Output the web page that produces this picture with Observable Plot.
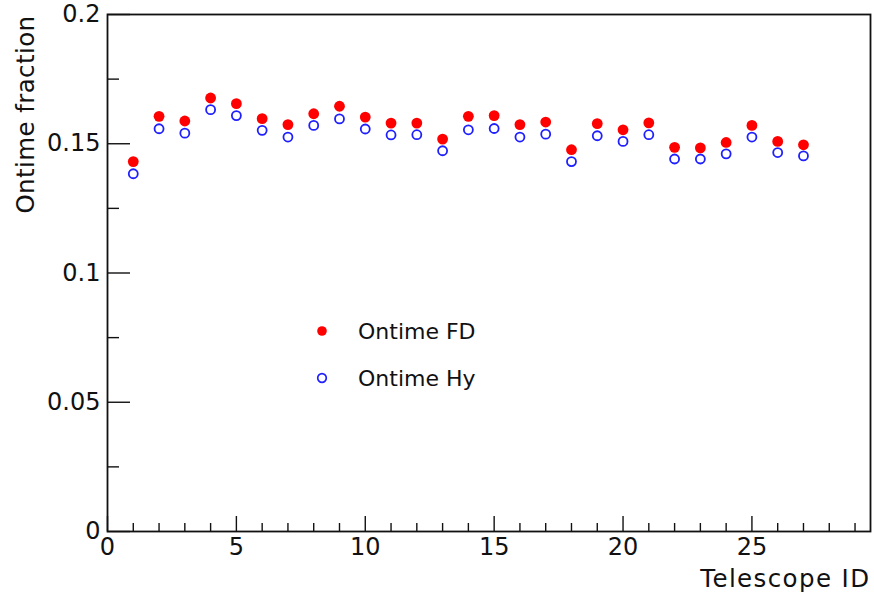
<!DOCTYPE html>
<html>
<head>
<meta charset="utf-8">
<script src="https://cdn.jsdelivr.net/npm/d3@7"></script>
<script src="https://cdn.jsdelivr.net/npm/@observablehq/plot@0.6"></script>
<style>
  html, body { margin: 0; padding: 0; background: #fff; }
  #chart { position: relative; width: 874px; height: 599px; overflow: hidden; }
  #legend { position: absolute; left: 0; top: 0; pointer-events: none; }
</style>
</head>
<body>
<div id="chart"></div>
<script>
// Telescope IDs and on-time fractions per telescope
const telescopeIds = [1, 2, 3, 4, 5, 6, 7, 8, 9, 10, 11, 12, 13, 14, 15, 16, 17, 18, 19, 20, 21, 22, 23, 24, 25, 26, 27];
const ontimeFD = [0.1431, 0.1606, 0.1588, 0.1677, 0.1655, 0.1597, 0.1574, 0.1616, 0.1645, 0.1603, 0.1580, 0.1580, 0.1518, 0.1606,
                  0.1609, 0.1574, 0.1584, 0.1477, 0.1578, 0.1554, 0.1581, 0.1486, 0.1484, 0.1505, 0.1571, 0.1509, 0.1496];
const ontimeHy = [0.1384, 0.1558, 0.1541, 0.1632, 0.1609, 0.1552, 0.1526, 0.1571, 0.1596, 0.1557, 0.1534, 0.1535, 0.1473, 0.1554,
                  0.1559, 0.1526, 0.1537, 0.1431, 0.1531, 0.1509, 0.1535, 0.1441, 0.1441, 0.1461, 0.1526, 0.1466, 0.1453];

// Axis ticks
const xMajorTicks = [0, 5, 10, 15, 20, 25];
const xMinorTicks = [1, 2, 3, 4, 6, 7, 8, 9, 11, 12, 13, 14, 16, 17, 18, 19, 21, 22, 23, 24, 26, 27, 28, 29];
const yMajorTicks = [0, 0.05, 0.1, 0.15, 0.2];
const yTickLabels = ["0", "0.05", "0.1", "0.15", "0.2"];
const yMinorTicks = [0.025, 0.075, 0.125, 0.175];

const seriesNames = ["Ontime FD", "Ontime Hy"];
const xTitle = "Telescope ID";
const yTitle = "Ontime fraction";

const fdRows = telescopeIds.map((id, i) => ({id, value: ontimeFD[i]}));
const hyRows = telescopeIds.map((id, i) => ({id, value: ontimeHy[i]}));

const W = 874, H = 599;
const mL = 107, mR = 4, mT = 14, mB = 68;
const innerW = W - mL - mR, innerH = H - mT - mB;
const font = "'DejaVu Sans', 'Liberation Sans', sans-serif";
const ink = "#111";

const plot = Plot.plot({
  width: W,
  height: H,
  marginLeft: mL,
  marginRight: mR,
  marginTop: mT,
  marginBottom: mB,
  style: {fontFamily: font, fontSize: "24px", color: ink, background: "#fff", overflow: "visible"},
  x: {domain: [0, 29.6], axis: null},
  y: {domain: [0, 0.2], axis: null},
  marks: [
    // inward tick marks
    Plot.ruleX(xMajorTicks, {x: d => d, insetTop: innerH - 15, stroke: ink, strokeWidth: 1.4}),
    Plot.ruleX(xMinorTicks, {x: d => d, insetTop: innerH - 8, stroke: ink, strokeWidth: 1.4}),
    Plot.ruleY(yMajorTicks, {y: d => d, insetRight: innerW - 23, stroke: ink, strokeWidth: 1.4}),
    Plot.ruleY(yMinorTicks, {y: d => d, insetRight: innerW - 12, stroke: ink, strokeWidth: 1.4}),
    // tick labels
    Plot.axisX({ticks: xMajorTicks, tickSize: 0, tickPadding: 6, tickFormat: d => String(d),
                fontSize: 24, label: null, fill: ink}),
    Plot.axisY({ticks: yMajorTicks, tickSize: 0, tickPadding: 7,
                tickFormat: d => yTickLabels[yMajorTicks.indexOf(d)], fontSize: 24, label: null, fill: ink}),
    // axis titles
    Plot.text([xTitle], {frameAnchor: "bottom-right", textAnchor: "end", lineAnchor: "bottom",
                         dy: 55, dx: 0, fontSize: 24.5, fill: ink}),
    Plot.text([yTitle], {frameAnchor: "top-left", rotate: -90, textAnchor: "end", lineAnchor: "bottom",
                         dx: -74, dy: 1, fontSize: 24.5, fill: ink}),
    // data
    Plot.dot(hyRows, {x: "id", y: "value", r: 4.5, stroke: "#1f1fff", strokeWidth: 1.8, fill: "none"}),
    Plot.dot(fdRows, {x: "id", y: "value", r: 5.4, fill: "#ff0000", stroke: "none"}),
    Plot.frame({stroke: ink, strokeWidth: 1.8})
  ]
});

// widen the axis titles slightly
d3.select(plot).selectAll("text")
  .filter(function() { return this.textContent === xTitle; })
  .style("letter-spacing", "1.4px");
d3.select(plot).selectAll("text")
  .filter(function() { return this.textContent === yTitle; })
  .style("letter-spacing", "0.4px");

const chart = document.getElementById("chart");
chart.appendChild(plot);

// Legend drawn in an overlay
const legend = d3.select(chart).append("svg")
  .attr("id", "legend")
  .attr("width", W)
  .attr("height", H)
  .style("font-family", font);

const entries = [
  {name: seriesNames[0], cy: 331, filled: true},
  {name: seriesNames[1], cy: 378, filled: false}
];
const g = legend.selectAll("g").data(entries).join("g")
  .attr("transform", d => `translate(322,${d.cy})`);
g.append("circle")
  .attr("r", d => d.filled ? 4.8 : 4.3)
  .attr("fill", d => d.filled ? "#ff0000" : "none")
  .attr("stroke", d => d.filled ? "none" : "#1f1fff")
  .attr("stroke-width", 1.7);
g.append("text")
  .attr("x", 36)
  .attr("y", 7.5)
  .attr("font-size", 22)
  .attr("fill", ink)
  .text(d => d.name);
</script>
</body>
</html>
